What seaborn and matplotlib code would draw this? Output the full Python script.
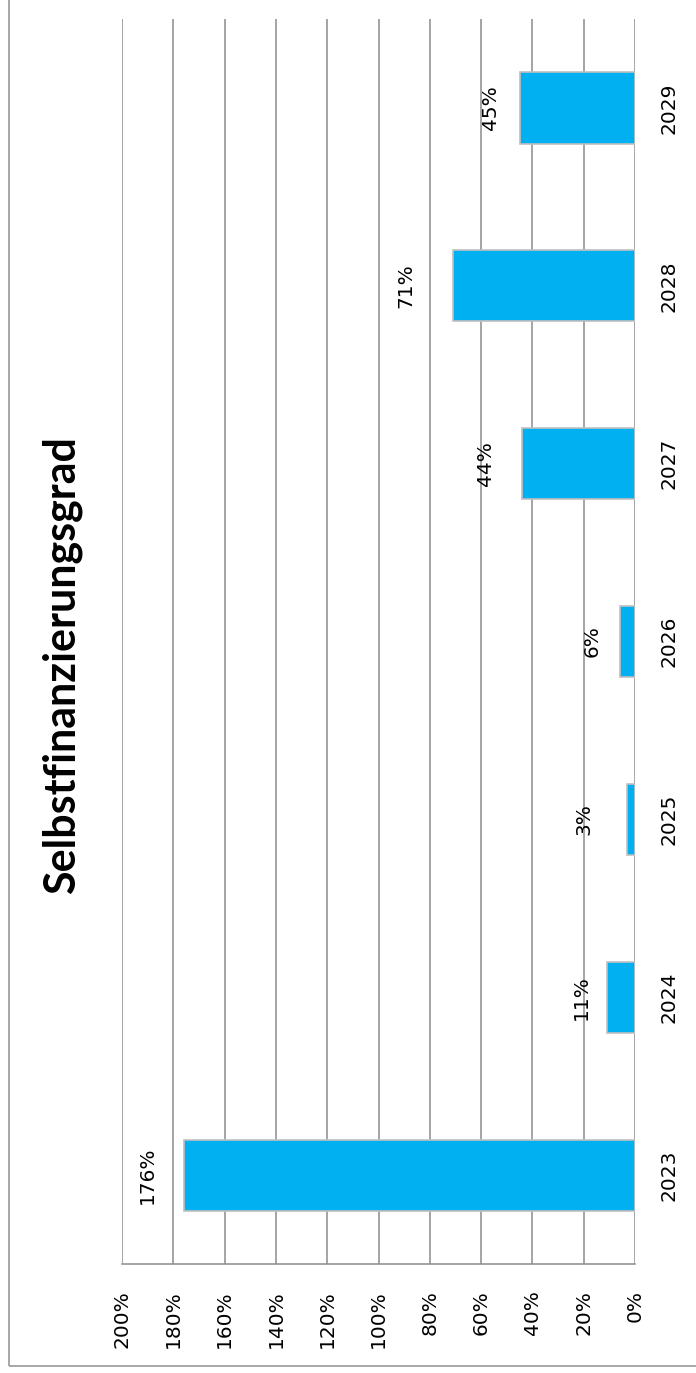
import matplotlib
matplotlib.use("Agg")
import matplotlib.pyplot as plt
import seaborn as sns
import pandas as pd
from matplotlib.patches import Rectangle

years = ["2023", "2024", "2025", "2026", "2027", "2028", "2029"]
values = [176, 11, 3, 6, 44, 71, 45]
labels = ["176%", "11%", "3%", "6%", "44%", "71%", "45%"]
ticks = [0, 20, 40, 60, 80, 100, 120, 140, 160, 180, 200]
tick_labels = [f"{t}%" for t in ticks]
title = "Selbstfinanzierungsgrad"

# label displacement (value units) as placed in the original chart
label_shift = [14, 10, 17, 10.6, 14.4, 18.3, 11.5]

sns.set_theme(style="white")
plt.rcParams["font.family"] = ["DejaVu Sans"]
plt.rcParams["text.color"] = "black"
plt.rcParams["xtick.color"] = "black"
plt.rcParams["ytick.color"] = "black"

W, H = 696, 1373
fig = plt.figure(figsize=(W / 100, H / 100), dpi=100)
ax = fig.add_axes([122 / W, 1 - 1264 / H, (635 - 122) / W, (1264 - 19) / H])

df = pd.DataFrame({"year": years, "value": values})
order = years[::-1]
sns.barplot(data=df, x="value", y="year", order=order, orient="h",
            color="#00B0F0", saturation=1, width=0.4,
            edgecolor="#BFBFBF", linewidth=1.2, ax=ax, zorder=3)

ax.set_xlim(200, 0)
ax.set_xticks(ticks)
ax.set_xticklabels(tick_labels, rotation=90, fontsize=14.5, va="top", ha="center")
ax.tick_params(axis="x", length=0, pad=19)
ax.yaxis.tick_right()
ax.set_yticks(range(len(order)))
ax.set_yticklabels(order, rotation=90, fontsize=14.5, va="center")
ax.tick_params(axis="y", length=0, pad=18)
ax.set_xlabel("")
ax.set_ylabel("")

ax.grid(False)
for t in ticks:
    ax.axvline(t, color="#8C8C8C", lw=1.1, zorder=1)
for s in ["top", "left", "right"]:
    ax.spines[s].set_visible(False)
ax.spines["bottom"].set_color("#8C8C8C")
ax.spines["bottom"].set_linewidth(1.1)

for i, y in enumerate(years):
    pos = order.index(y)
    ax.text(values[i] + label_shift[i], pos, labels[i], rotation=90,
            ha="center", va="center", fontsize=14.5, color="black", zorder=4)

fig.text(62 / W, 1 - 665 / H, title, rotation=90, ha="center", va="center",
         fontsize=31, fontweight="bold", color="black",
         family=["Lato", "DejaVu Sans"])

fig.patches.append(Rectangle((9 / W, 1 - 1366 / H), 1.2, 1.2,
                             transform=fig.transFigure, fill=False,
                             edgecolor="#A0A0A0", lw=1.3))

fig.savefig("out.png", dpi=100)
